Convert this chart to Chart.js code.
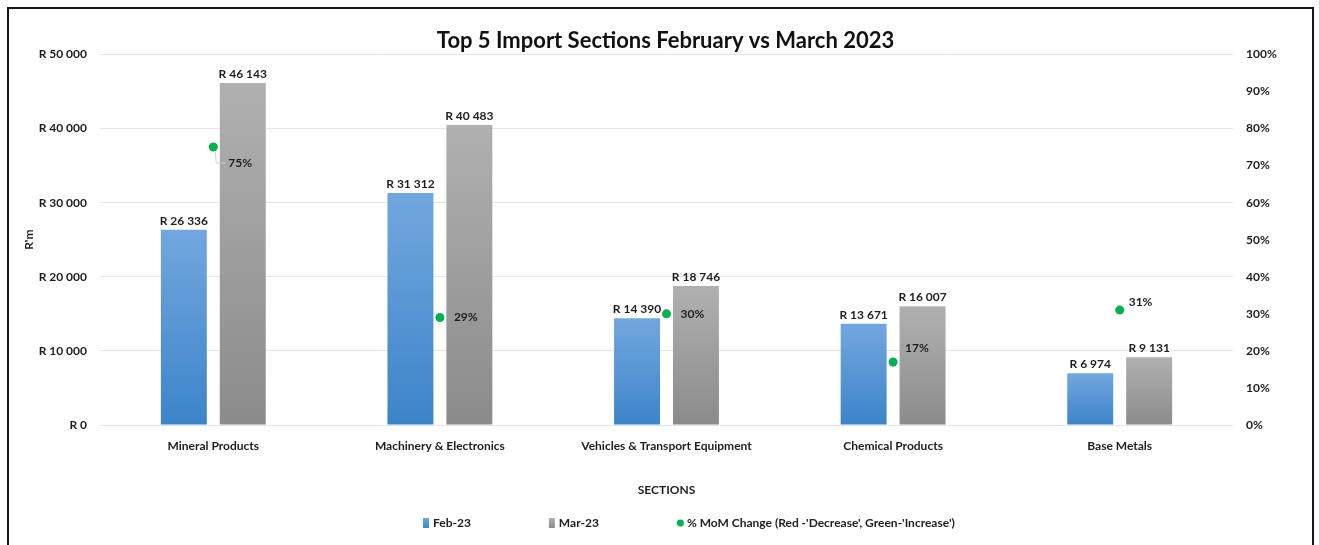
<!DOCTYPE html>
<html>
<head>
<meta charset="utf-8">
<title>Top 5 Import Sections February vs March 2023</title>
<script src="https://cdn.jsdelivr.net/npm/chart.js@4.4.0/dist/chart.umd.min.js"></script>
<style>
html, body { margin: 0; padding: 0; background: #fff; overflow: hidden; }
#wrap { position: relative; width: 1319px; height: 545px; }
#frame { position: absolute; left: 7px; top: 7px; width: 1303px; height: 600px; border: 2px solid #161616; pointer-events: none; }
canvas { position: absolute; left: 0; top: 0; }
</style>
</head>
<body>
<div id="wrap">
  <canvas id="importChart" width="1319" height="545"></canvas>
  <div id="frame"></div>
</div>
<script>
// data
var sections = ['Mineral Products', 'Machinery & Electronics', 'Vehicles & Transport Equipment', 'Chemical Products', 'Base Metals'];
var feb23 = [26336, 31312, 14390, 13671, 6974];
var mar23 = [46143, 40483, 18746, 16007, 9131];
var momChange = [75, 29, 30, 17, 31];
var randTicks = [0, 10000, 20000, 30000, 40000, 50000];
var pctTicks = [0, 10, 20, 30, 40, 50, 60, 70, 80, 90, 100];

var FONT = 'Lato, "Open Sans", sans-serif';
var TXT = '#1e1e1e';

// where the % labels sit relative to their dot (dx, dy)
var pctLabelOffsets = [[15, 16], [14, 0], [14, 0], [12, -14], [9, -8]];

var formatRand = function(v) {
	return 'R ' + String(v).replace(/\B(?=(\d{3})+(?!\d))/g, ' ');
};

var barGradient = function(top, bottom) {
	return function(context) {
		var chart = context.chart;
		if (!chart.chartArea || context.type !== 'data') return bottom;
		var yScale = chart.scales.y;
		var y0 = yScale.getPixelForValue(context.raw);
		var y1 = yScale.getPixelForValue(0);
		var g = chart.ctx.createLinearGradient(0, y0, 0, y1);
		g.addColorStop(0, top);
		g.addColorStop(1, bottom);
		return g;
	};
};

var blueTop = '#72a7de', blueBottom = '#3c84c9';
var greyTop = '#b0b0b0', greyBottom = '#8b8b8b';
var green = '#00b050', red = '#e02020';

var valueLabels = {
	id: 'valueLabels',
	afterDatasetsDraw: function(chart) {
		var ctx = chart.ctx;
		ctx.save();
		ctx.font = 'bold 12px ' + FONT;
		ctx.fillStyle = TXT;
		chart.data.datasets.forEach(function(ds, i) {
			var meta = chart.getDatasetMeta(i);
			meta.data.forEach(function(el, j) {
				if (ds.type === 'bar') {
					ctx.textAlign = 'center';
					ctx.textBaseline = 'bottom';
					ctx.fillText(formatRand(ds.data[j]), el.x, el.y - 3);
				} else {
					var off = pctLabelOffsets[j];
					if (off[1] > 8) {
						// leader line
						ctx.strokeStyle = '#c3d1e2';
						ctx.lineWidth = 1;
						ctx.beginPath();
						ctx.moveTo(el.x + 2, el.y + 5);
						ctx.lineTo(el.x + 3, el.y + off[1]);
						ctx.lineTo(el.x + off[0] - 3, el.y + off[1]);
						ctx.stroke();
					}
					ctx.textAlign = 'left';
					ctx.textBaseline = 'middle';
					ctx.fillText(ds.data[j] + '%', el.x + off[0], el.y + off[1]);
				}
			});
		});
		ctx.restore();
	}
};

// legend row drawn under the axis title, spaced like the original
var legendRow = {
	id: 'legendRow',
	afterDraw: function(chart) {
		var ctx = chart.ctx;
		var y = 523, x = 423, gap = 78;
		ctx.save();
		ctx.font = 'bold 12px ' + FONT;
		ctx.textBaseline = 'middle';
		ctx.textAlign = 'left';
		chart.data.datasets.forEach(function(ds) {
			if (ds.type === 'bar') {
				var g = ctx.createLinearGradient(0, y - 5, 0, y + 5);
				g.addColorStop(0, ds.legendTop);
				g.addColorStop(1, ds.legendBottom);
				ctx.fillStyle = g;
				ctx.fillRect(x, y - 5, 6, 10);
				x += 10;
			} else {
				ctx.fillStyle = green;
				ctx.beginPath();
				ctx.arc(x + 3.5, y, 3.5, 0, Math.PI * 2);
				ctx.fill();
				x += 10;
			}
			ctx.fillStyle = TXT;
			ctx.fillText(ds.label, x, y);
			x += ctx.measureText(ds.label).width + gap;
		});
		ctx.restore();
	}
};

var importChart = new Chart(document.getElementById('importChart'), {
	type: 'bar',
	data: {
		labels: sections,
		datasets: [
			{
				type: 'bar',
				label: 'Feb-23',
				data: feb23,
				yAxisID: 'y',
				backgroundColor: barGradient(blueTop, blueBottom),
				legendTop: blueTop, legendBottom: blueBottom,
				barPercentage: 0.78,
				categoryPercentage: 0.52,
				order: 2
			},
			{
				type: 'bar',
				label: 'Mar-23',
				data: mar23,
				yAxisID: 'y',
				backgroundColor: barGradient(greyTop, greyBottom),
				legendTop: greyTop, legendBottom: greyBottom,
				barPercentage: 0.78,
				categoryPercentage: 0.52,
				order: 2
			},
			{
				type: 'line',
				label: "% MoM Change (Red -'Decrease', Green-'Increase')",
				data: momChange,
				yAxisID: 'y2',
				showLine: false,
				pointRadius: 4.5,
				pointBorderWidth: 0,
				pointBackgroundColor: function(c) { return c.raw < 0 ? red : green; },
				order: 1
			}
		]
	},
	options: {
		responsive: false,
		animation: false,
		layout: { padding: { left: 12, right: 0, top: 28, bottom: 40 } },
		plugins: {
			legend: { display: false },
			tooltip: { enabled: false },
			title: {
				display: true,
				text: 'Top 5 Import Sections February vs March 2023',
				color: '#111',
				font: { family: FONT, size: 22, weight: 'bold' },
				padding: { top: 0, bottom: 0 }
			}
		},
		scales: {
			x: {
				grid: { display: false, drawTicks: false },
				border: { display: false },
				ticks: { color: TXT, font: { family: FONT, size: 12, weight: 'bold' }, padding: 14, maxRotation: 0 },
				title: { display: true, text: 'SECTIONS', color: TXT, font: { family: FONT, size: 12, weight: 'bold' }, padding: { top: 28, bottom: 8 } },
				afterFit: function(s) { s.height = 80; }
			},
			y: {
				position: 'left',
				min: 0,
				max: 50000,
				afterBuildTicks: function(s) { s.ticks = randTicks.map(function(v) { return { value: v }; }); },
				grid: { color: '#dfe5ee', lineWidth: 1, drawTicks: false },
				border: { display: false },
				ticks: { color: TXT, font: { family: FONT, size: 12, weight: 'bold' }, padding: 13, callback: function(v) { return formatRand(v); } },
				title: { display: true, text: "R'm", color: TXT, font: { family: FONT, size: 12, weight: 'bold' }, padding: { top: 10, bottom: 0 } },
				afterFit: function(s) { s.width = 88; }
			},
			y2: {
				position: 'right',
				min: 0,
				max: 100,
				afterBuildTicks: function(s) { s.ticks = pctTicks.map(function(v) { return { value: v }; }); },
				grid: { display: false, drawTicks: false },
				border: { display: false },
				ticks: { color: TXT, font: { family: FONT, size: 12, weight: 'bold' }, padding: 13, callback: function(v) { return v + '%'; } },
				afterFit: function(s) { s.width = 86; }
			}
		}
	},
	plugins: [valueLabels, legendRow]
});
</script>
</body>
</html>
